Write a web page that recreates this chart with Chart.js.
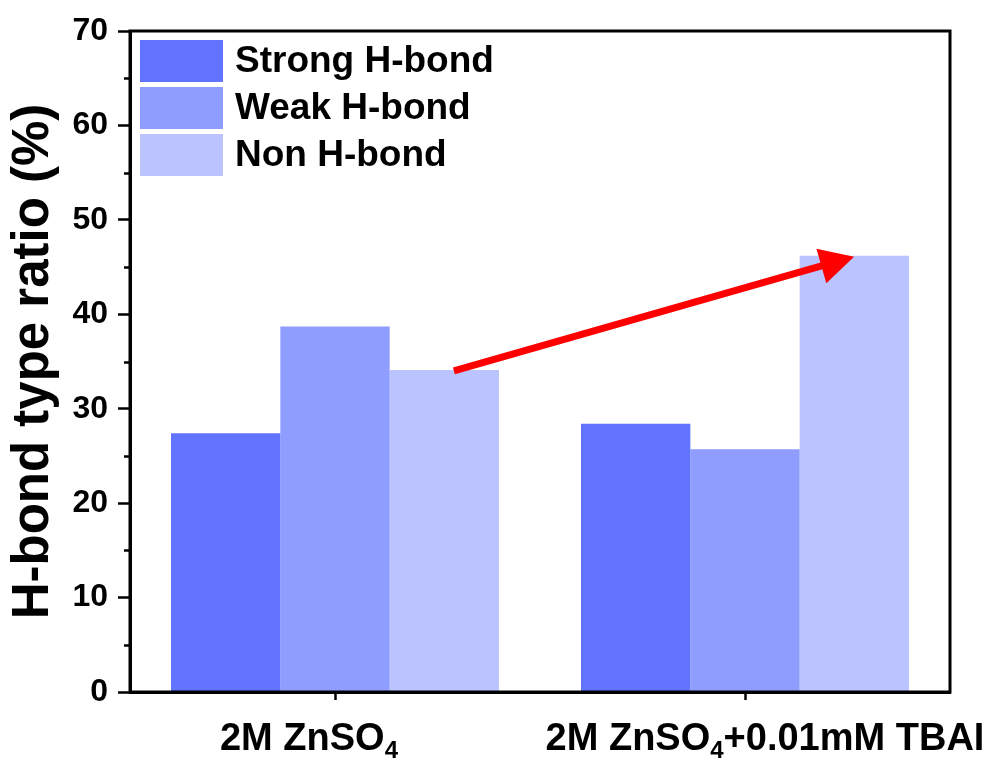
<!DOCTYPE html>
<html>
<head>
<meta charset="utf-8">
<title>H-bond type ratio</title>
<script src="https://cdn.jsdelivr.net/npm/chart.js@4.4.1/dist/chart.umd.min.js"></script>
<style>
  html, body { margin: 0; padding: 0; background: #fff; }
  canvas { display: block; }
</style>
</head>
<body>
<canvas id="myChart" width="995" height="760"></canvas>
<script>
// categories (the ₄ gets drawn as a real subscript below)
const categories = ['2M ZnSO₄', '2M ZnSO₄+0.01mM TBAI'];

// H-bond type ratio (%)
const strongHB = [27.4, 28.4];
const weakHB = [38.7, 25.7];
const nonHB = [34.1, 46.2];

const seriesNames = ['Strong H-bond', 'Weak H-bond', 'Non H-bond'];
const seriesColors = ['#6173ff', '#8f9dff', '#bbc4ff'];

// y axis
const yMin = 0;
const yMax = 70;
const yStep = 10;
const yMinorStep = 5;

// red arrow, in data units (x = category index)
const arrowFrom = { x: 0.29, y: 34.0 };
const arrowTo = { x: 1.266, y: 46.1 };

const FONT = "'Liberation Sans', Arial, sans-serif";

// nudge of each x label from its tick
const xLabelShift = [-26, 20];

const decoPlugin = {
    id: 'deco',
    afterDatasetsDraw(chart) {
        const ctx = chart.ctx;
        const xs = chart.scales.x;
        const ys = chart.scales.y;
        const x0 = xs.getPixelForValue(arrowFrom.x);
        const y0 = ys.getPixelForValue(arrowFrom.y);
        const x1 = xs.getPixelForValue(arrowTo.x);
        const y1 = ys.getPixelForValue(arrowTo.y);
        const ang = Math.atan2(y1 - y0, x1 - x0);
        const headLen = 34;
        const headHalf = 18;
        const bx = x1 - headLen * Math.cos(ang);
        const by = y1 - headLen * Math.sin(ang);

        ctx.save();
        ctx.strokeStyle = '#ff0000';
        ctx.fillStyle = '#ff0000';
        ctx.lineWidth = 7;
        ctx.beginPath();
        ctx.moveTo(x0, y0);
        ctx.lineTo(bx + 2 * Math.cos(ang), by + 2 * Math.sin(ang));
        ctx.stroke();
        ctx.beginPath();
        ctx.moveTo(x1, y1);
        ctx.lineTo(bx + headHalf * Math.sin(ang), by - headHalf * Math.cos(ang));
        ctx.lineTo(bx - headHalf * Math.sin(ang), by + headHalf * Math.cos(ang));
        ctx.closePath();
        ctx.fill();
        ctx.restore();
    },
    afterDraw(chart) {
        const ctx = chart.ctx;
        const area = chart.chartArea;
        const xs = chart.scales.x;
        const ys = chart.scales.y;

        ctx.save();
        // frame
        ctx.strokeStyle = '#000';
        ctx.lineWidth = 3;
        ctx.strokeRect(area.left, area.top, area.right - area.left, area.bottom - area.top);

        // minor ticks on y
        ctx.lineWidth = 2.5;
        for (let v = yMin + yMinorStep; v < yMax; v += yStep) {
            const py = Math.round(ys.getPixelForValue(v)) + 0.5;
            ctx.beginPath();
            ctx.moveTo(area.left - 6, py);
            ctx.lineTo(area.left, py);
            ctx.stroke();
        }

        // x labels with subscript 4
        ctx.fillStyle = '#000';
        ctx.textBaseline = 'alphabetic';
        const mainFont = 'bold 38px ' + FONT;
        const subFont = 'bold 24px ' + FONT;
        categories.forEach((lab, i) => {
            const parts = lab.split('₄');
            ctx.font = mainFont;
            const w0 = ctx.measureText(parts[0]).width;
            const w2 = parts[1] ? ctx.measureText(parts[1]).width : 0;
            ctx.font = subFont;
            const w1 = ctx.measureText('4').width;
            const total = w0 + w1 + w2;
            let x = xs.getPixelForTick(i) + xLabelShift[i] - total / 2;
            const base = 750;
            ctx.textAlign = 'left';
            ctx.font = mainFont;
            ctx.fillText(parts[0], x, base);
            x += w0;
            ctx.font = subFont;
            ctx.fillText('4', x, base + 8);
            x += w1;
            if (parts[1]) {
                ctx.font = mainFont;
                ctx.fillText(parts[1], x, base);
            }
        });

        // legend inside the plot
        const boxW = 83, boxH = 42, gap = 5;
        ctx.font = 'bold 37px ' + FONT;
        ctx.textBaseline = 'middle';
        chart.data.datasets.forEach((ds, i) => {
            const bxl = area.left + 10;
            const byt = area.top + 9 + i * (boxH + gap);
            ctx.fillStyle = ds.backgroundColor;
            ctx.fillRect(bxl, byt, boxW, boxH);
            ctx.fillStyle = '#000';
            ctx.fillText(ds.label, bxl + boxW + 12, byt + boxH / 2 + 1);
        });
        ctx.restore();
    }
};

const ctx = document.getElementById('myChart');
const myChart = new Chart(ctx, {
    type: 'bar',
    data: {
        labels: categories,
        datasets: [
            { label: seriesNames[0], data: strongHB, backgroundColor: seriesColors[0] },
            { label: seriesNames[1], data: weakHB, backgroundColor: seriesColors[1] },
            { label: seriesNames[2], data: nonHB, backgroundColor: seriesColors[2] }
        ]
    },
    options: {
        responsive: false,
        animation: false,
        events: [],
        layout: { padding: { top: 31, right: 45, left: 0, bottom: 0 } },
        datasets: {
            bar: { categoryPercentage: 0.8, barPercentage: 1.0, borderWidth: 0 }
        },
        plugins: {
            legend: { display: false },
            tooltip: { enabled: false }
        },
        scales: {
            x: {
                offset: true,
                grid: { offset: false, drawOnChartArea: false, tickLength: 8, tickWidth: 2.5, tickColor: '#000' },
                border: { width: 3, color: '#000' },
                ticks: { display: false },
                afterFit(scale) { scale.height = 68; }
            },
            y: {
                min: yMin,
                max: yMax,
                grid: { drawOnChartArea: false, tickLength: 12, tickWidth: 2.5, tickColor: '#000' },
                border: { width: 3, color: '#000' },
                ticks: {
                    stepSize: yStep,
                    color: '#000',
                    padding: 10,
                    font: { family: FONT, size: 32, weight: 'bold' }
                },
                title: {
                    display: true,
                    text: 'H-bond type ratio (%)',
                    color: '#000',
                    padding: { top: 3, bottom: 0 },
                    font: { family: FONT, size: 51, weight: 'bold' }
                },
                afterFit(scale) { scale.width = 130; }
            }
        }
    },
    plugins: [decoPlugin]
});
</script>
</body>
</html>
